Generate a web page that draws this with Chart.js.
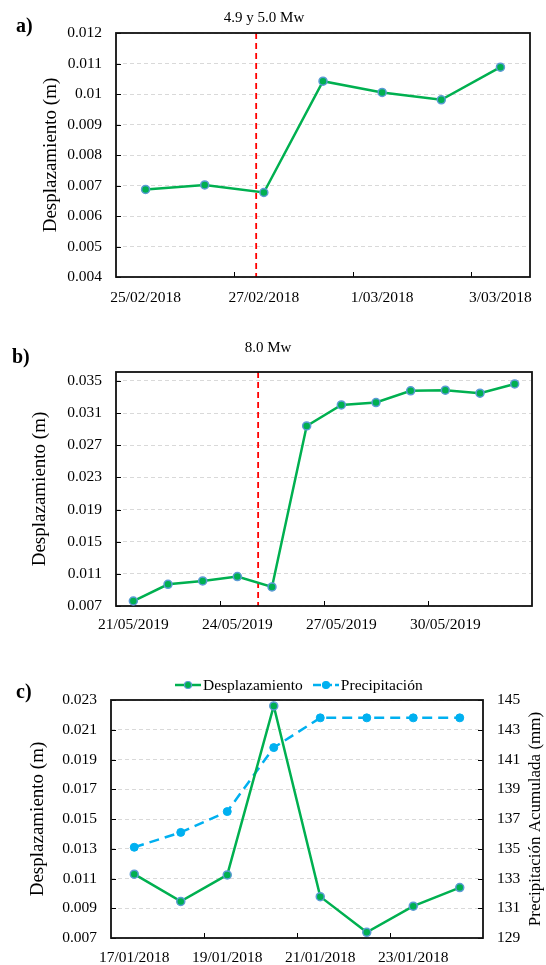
<!DOCTYPE html>
<html>
<head>
<meta charset="utf-8">
<script src="https://cdn.jsdelivr.net/npm/chart.js@4.4.0/dist/chart.umd.min.js"></script>
<style>
html,body{margin:0;padding:0;background:#fff;}
#wrap{position:relative;width:546px;height:965px;overflow:hidden;font-family:"Liberation Serif","Times New Roman",serif;color:#000;}
canvas{position:absolute;left:0;}
.lbl{position:absolute;font-weight:bold;font-size:20px;line-height:1;}
.ttl{position:absolute;font-size:15px;line-height:1;transform:translateX(-50%);white-space:nowrap;}
#legC{position:absolute;left:175px;top:676px;display:flex;align-items:center;font-size:15.5px;line-height:18px;white-space:nowrap;}
#legC .li{display:flex;align-items:center;margin-right:10px;}
#legC svg{margin-right:2px;}
</style>
</head>
<body>
<div id="wrap">
  <canvas id="chA" width="546" height="310" style="top:0"></canvas>
  <canvas id="chB" width="546" height="330" style="top:310px"></canvas>
  <canvas id="chC" width="546" height="325" style="top:640px"></canvas>
  <div class="lbl" style="left:16px;top:15px">a)</div>
  <div class="lbl" style="left:12px;top:346px">b)</div>
  <div class="lbl" style="left:16px;top:681px">c)</div>
  <div class="ttl" style="left:264px;top:10px">4.9 y 5.0 Mw</div>
  <div class="ttl" style="left:268px;top:340px">8.0 Mw</div>
  <div id="legC"></div>
</div>
<script>
const SERIF = '"Liberation Serif", "Times New Roman", serif';
Chart.defaults.font.family = SERIF;
Chart.defaults.color = '#000';

// a) sismos 4.9 y 5.0 Mw
const datesA = ["25/02/2018","26/02/2018","27/02/2018","28/02/2018","1/03/2018","2/03/2018","3/03/2018"];
const dispA = [0.00687,0.00702,0.00677,0.01042,0.01005,0.00981,0.01088];
const yTicksA = [0.004,0.005,0.006,0.007,0.008,0.009,0.010,0.011,0.012];
const eventA = 1.87;   // position of the quake on the category axis

// b) sismo 8.0 Mw
const datesB = ["21/05/2019","22/05/2019","23/05/2019","24/05/2019","25/05/2019","26/05/2019",
                "27/05/2019","28/05/2019","29/05/2019","30/05/2019","31/05/2019","1/06/2019"];
const dispB = [0.00762,0.0097,0.01012,0.01066,0.00937,0.02939,0.03201,0.0323,0.03376,0.03384,0.03347,0.03461];
const yTicksB = [0.007,0.011,0.015,0.019,0.023,0.027,0.031,0.035];
const yMaxB = 0.0361;
const eventB = 3.6;

// c) precipitación
const datesC = ["17/01/2018","18/01/2018","19/01/2018","20/01/2018","21/01/2018","22/01/2018","23/01/2018","24/01/2018"];
const dispC = [0.01129,0.00946,0.01124,0.0226,0.00978,0.00738,0.00914,0.01039];
const rainC = [135.1,136.1,137.5,141.8,143.8,143.8,143.8,143.8];
const yTicksC = [0.007,0.009,0.011,0.013,0.015,0.017,0.019,0.021,0.023];
const rainTicksC = [129,131,133,135,137,139,141,143,145];

const GREEN = '#00b050', EDGE = '#5b9bd5', BLUE = '#00b0f0', GRID = '#d9d9d9';

function xAxis(labels, step, h, pad){
  return {
    type:'category', offset:true,
    grid:{display:false}, border:{display:false},
    ticks:{autoSkip:false, maxRotation:0, minRotation:0, padding:pad, font:{size:15.5},
      callback:(v,i)=> i%step===0 ? labels[i] : ''},
    afterFit(s){ s.height = h; s.paddingLeft = 0; s.paddingRight = 0; }
  };
}

function yAxis(vals, max, w, title, pos){
  return {
    position: pos || 'left', min: vals[0], max: max,
    afterBuildTicks(s){ s.ticks = vals.map(v=>({value:v})); },
    ticks:{padding:14, font:{size:15.5}, callback:v=> String(+(+v).toFixed(3))},
    grid:{display: pos!=='right', color:GRID, drawTicks:false, lineWidth:1},
    border:{display:false, dash:[4,3]},
    title: title ? {display:true, text:title, font:{size:19}, padding:0} : {display:false},
    afterFit(s){ s.width = w; }
  };
}

function dispSet(label, data){
  return {label, data, borderColor:GREEN, borderWidth:2.5, tension:0,
    pointRadius:4, pointBorderWidth:1.5, pointBackgroundColor:GREEN, pointBorderColor:EDGE, order:1};
}

// box round the plot, inward tick marks, red event line
const framePlugin = {
  id:'frame',
  beforeDatasetsDraw(chart, args, opts){
    const {ctx, chartArea:a, scales} = chart;
    ctx.save();
    if(opts.event != null){
      const x = scales.x.getPixelForValue(opts.event);
      ctx.strokeStyle = '#ff0000'; ctx.lineWidth = 1.8; ctx.setLineDash([6,4]);
      ctx.beginPath(); ctx.moveTo(x, a.top); ctx.lineTo(x, a.bottom); ctx.stroke();
      ctx.setLineDash([]);
    }
    ctx.strokeStyle = '#000'; ctx.lineWidth = 1;
    ctx.beginPath();
    Object.values(scales).forEach(s=>{
      if(s.axis === 'y'){
        const right = s.position === 'right';
        const x0 = right ? a.right : a.left, d = right ? -5 : 5;
        s.ticks.forEach(t=>{
          const y = Math.round(s.getPixelForValue(t.value)) + 0.5;
          ctx.moveTo(x0, y); ctx.lineTo(x0 + d, y);
        });
      } else {
        for(let i = opts.step; i < s.ticks.length; i += opts.step){
          const x = Math.round((s.getPixelForValue(i-1) + s.getPixelForValue(i))/2) + 0.5;
          ctx.moveTo(x, a.bottom); ctx.lineTo(x, a.bottom - 5);
        }
      }
    });
    ctx.stroke();
    ctx.lineWidth = 1.8; ctx.strokeStyle = '#111';
    ctx.strokeRect(a.left, a.top, a.width, a.height);
    ctx.restore();
  },
  afterDraw(chart, args, opts){
    if(!opts.rightTitle) return;
    const {ctx, chartArea:a} = chart;
    ctx.save();
    ctx.translate(chart.width - 10, (a.top + a.bottom)/2);
    ctx.rotate(-Math.PI/2);
    ctx.font = '17px ' + SERIF; ctx.fillStyle = '#000';
    ctx.textAlign = 'center'; ctx.textBaseline = 'middle';
    ctx.fillText(opts.rightTitle, 0, 0);
    ctx.restore();
  }
};

const common = {responsive:false, animation:false, devicePixelRatio:1};

new Chart(document.getElementById('chA'), {
  type:'line',
  data:{labels:datesA, datasets:[dispSet('Desplazamiento', dispA)]},
  options:{...common,
    layout:{padding:{top:33, left:40, right:16, bottom:0}},
    scales:{x:xAxis(datesA, 2, 33, 4), y:yAxis(yTicksA, 0.012, 76, 'Desplazamiento (m)')},
    plugins:{legend:{display:false}, tooltip:{enabled:false}, frame:{step:2, event:eventA}}
  },
  plugins:[framePlugin]
});

new Chart(document.getElementById('chB'), {
  type:'line',
  data:{labels:datesB, datasets:[dispSet('Desplazamiento', dispB)]},
  options:{...common,
    layout:{padding:{top:62, left:29, right:14, bottom:0}},
    scales:{x:xAxis(datesB, 3, 34, 2), y:yAxis(yTicksB, yMaxB, 87, 'Desplazamiento (m)')},
    plugins:{legend:{display:false}, tooltip:{enabled:false}, frame:{step:3, event:eventB}}
  },
  plugins:[framePlugin]
});

const chartC = new Chart(document.getElementById('chC'), {
  type:'line',
  data:{labels:datesC, datasets:[
    dispSet('Desplazamiento', dispC),
    {label:'Precipitación', data:rainC, yAxisID:'y2', borderColor:BLUE, borderWidth:2.5, borderDash:[10,6],
     tension:0, pointRadius:4, pointBorderWidth:1, pointBackgroundColor:BLUE, pointBorderColor:BLUE, order:2}
  ]},
  options:{...common,
    layout:{padding:{top:60, left:27, right:0, bottom:0}},
    scales:{x:xAxis(datesC, 2, 27, 3), y:yAxis(yTicksC, 0.023, 84, 'Desplazamiento (m)'),
            y2:yAxis(rainTicksC, 145, 63, null, 'right')},
    plugins:{legend:{display:false}, tooltip:{enabled:false},
             frame:{step:2, rightTitle:'Precipitación Acumulada (mm)'}}
  },
  plugins:[framePlugin]
});

// legend for panel c, built from the datasets
const leg = document.getElementById('legC');
chartC.data.datasets.forEach(ds=>{
  const dash = ds.borderDash ? 'stroke-dasharray="8,3"' : '';
  const item = document.createElement('span');
  item.className = 'li';
  item.innerHTML = `<svg width="26" height="10"><line x1="0" y1="5" x2="26" y2="5" stroke="${ds.borderColor}" stroke-width="2.5" ${dash}/>`+
    `<circle cx="13" cy="5" r="3.5" fill="${ds.pointBackgroundColor}" stroke="${ds.pointBorderColor}" stroke-width="1.2"/></svg>`+
    `<span>${ds.label}</span>`;
  leg.appendChild(item);
});
</script>
</body>
</html>
